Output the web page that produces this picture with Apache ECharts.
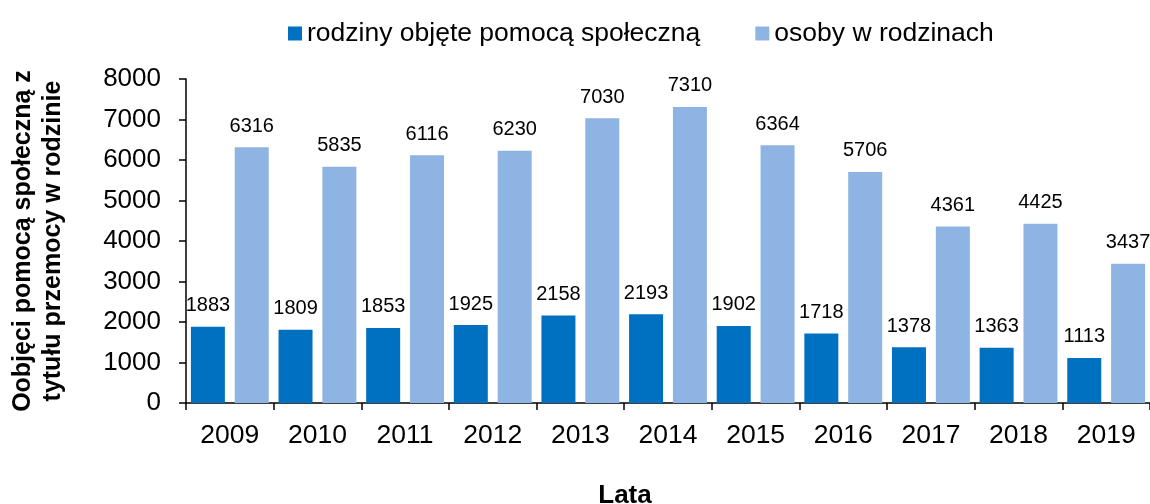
<!DOCTYPE html>
<html>
<head>
<meta charset="utf-8">
<script src="https://cdn.jsdelivr.net/npm/echarts@6/dist/echarts.min.js"></script>
<style>
  html, body { margin: 0; padding: 0; background: #fff; }
  #chart { width: 1150px; height: 504px; }
</style>
</head>
<body>
<div id="chart"></div>
<script>
// Years on the category axis
const years = ['2009', '2010', '2011', '2012', '2013', '2014', '2015', '2016', '2017', '2018', '2019'];
// Families receiving social assistance due to domestic violence
const families = [1883, 1809, 1853, 1925, 2158, 2193, 1902, 1718, 1378, 1363, 1113];
// Persons in those families
const persons = [6316, 5835, 6116, 6230, 7030, 7310, 6364, 5706, 4361, 4425, 3437];
// Value axis ticks
const yTicks = [0, 1000, 2000, 3000, 4000, 5000, 6000, 7000, 8000];

const seriesNames = ['rodziny objęte pomocą społeczną', 'osoby w rodzinach'];
const FONT = '"Liberation Sans", Arial, sans-serif';

const chart = echarts.init(document.getElementById('chart'), null, { renderer: 'canvas' });

const labelStyle = {
  show: true,
  position: 'top',
  distance: 11,
  color: '#000',
  fontFamily: FONT,
  fontSize: 20
};

chart.setOption({
  animation: false,
  backgroundColor: '#fff',
  textStyle: { fontFamily: FONT },
  title: {
    text: 'Lata',
    left: 620,
    top: 478,
    textAlign: 'center',
    textStyle: { fontFamily: FONT, fontSize: 26, fontWeight: 'bold', color: '#000' }
  },
  legend: {
    left: 283,
    top: 15,
    icon: 'rect',
    itemWidth: 14,
    itemHeight: 14,
    itemGap: 55,
    textStyle: { fontFamily: FONT, fontSize: 26.5, color: '#000' },
    data: seriesNames
  },
  grid: { left: 182, right: 0, top: 79, bottom: 101, containLabel: false },
  xAxis: {
    type: 'category',
    data: years,
    axisLine: { lineStyle: { color: '#000', width: 1.5 } },
    axisTick: { show: true, length: 7, alignWithLabel: false, lineStyle: { color: '#000', width: 1.5 } },
    axisLabel: { color: '#000', fontFamily: FONT, fontSize: 26.5, margin: 19 }
  },
  yAxis: {
    type: 'value',
    min: yTicks[0],
    max: yTicks[yTicks.length - 1],
    interval: yTicks[1] - yTicks[0],
    name: 'Oobjęci pomocą społeczną z\ntytułu przemocy w rodzinie',
    nameLocation: 'middle',
    nameGap: 118,
    nameTextStyle: { color: '#000', fontFamily: FONT, fontSize: 25, fontWeight: 'bold', lineHeight: 30, align: 'center' },
    splitLine: { show: false },
    axisLine: { show: true, lineStyle: { color: '#000', width: 1.5 } },
    axisTick: { show: true, length: 7, lineStyle: { color: '#000', width: 1.5 } },
    axisLabel: { color: '#000', fontFamily: FONT, fontSize: 26, margin: 25, formatter: v => String(v) }
  },
  series: [
    {
      name: seriesNames[0],
      type: 'bar',
      data: families,
      barWidth: 34,
      barGap: '29%',
      itemStyle: { color: '#0070C0' },
      label: labelStyle
    },
    {
      name: seriesNames[1],
      type: 'bar',
      data: persons,
      barWidth: 34,
      barGap: '29%',
      itemStyle: { color: '#8EB4E3' },
      label: labelStyle
    }
  ]
});
</script>
</body>
</html>
